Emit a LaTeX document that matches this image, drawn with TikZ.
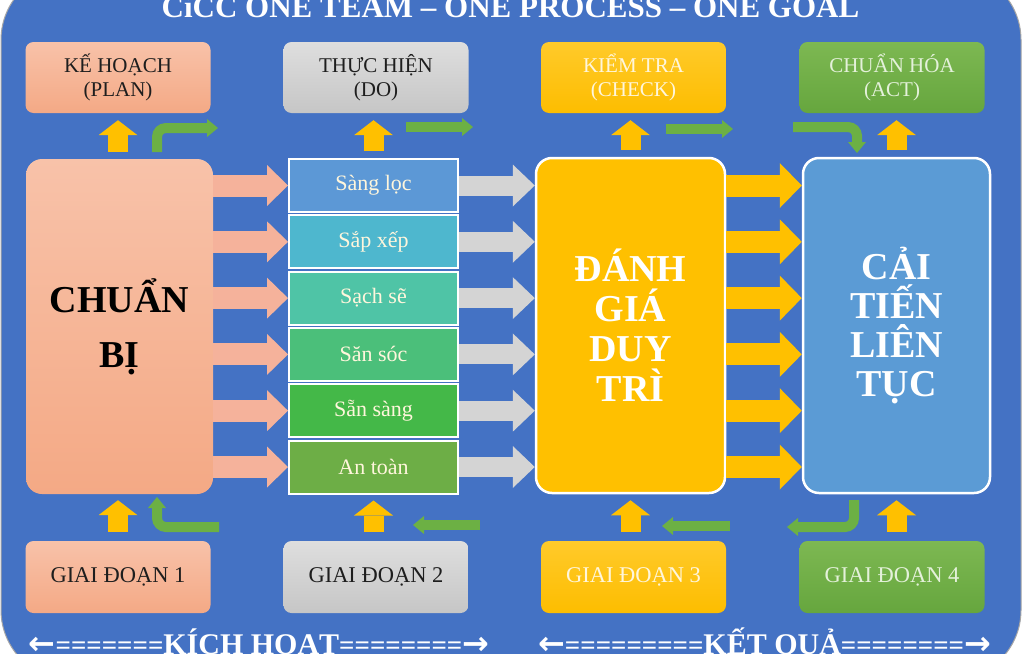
\documentclass[tikz,border=0pt]{standalone}
\usepackage{fontspec}
\setmainfont{Liberation Serif}
\newfontfamily\arrowfont{DejaVu Sans}
\usetikzlibrary{arrows.meta}
\definecolor{bgblue}{HTML}{4472C4}
\definecolor{salmontop}{HTML}{F8C2A9}
\definecolor{salmonbot}{HTML}{F4A985}
\definecolor{greytop}{HTML}{DEDEDE}
\definecolor{greybot}{HTML}{C6C6C6}
\definecolor{goldtop}{HTML}{FFCA2A}
\definecolor{goldbot}{HTML}{FDBD00}
\definecolor{leaftop}{HTML}{7DB852}
\definecolor{leafbot}{HTML}{66A63E}
\definecolor{skyblue}{HTML}{5B9BD5}
\definecolor{rowa}{HTML}{5C98D6}
\definecolor{rowb}{HTML}{4EB7CE}
\definecolor{rowc}{HTML}{4FC4A6}
\definecolor{rowd}{HTML}{4BBF7A}
\definecolor{rowe}{HTML}{44B848}
\definecolor{rowf}{HTML}{6DAE46}
\definecolor{cream}{HTML}{FFF6DC}
\definecolor{palegreen}{HTML}{E4F1DA}
\definecolor{darktext}{HTML}{1E1E1E}
\definecolor{arrpink}{HTML}{F5B29B}
\definecolor{arrgrey}{HTML}{D4D4D4}
\definecolor{arrgold}{HTML}{FFC000}
\definecolor{arrgreen}{HTML}{6CB044}
\begin{document}
\begin{tikzpicture}[x=1pt,y=-1pt,
  phase/.style={rounded corners=8pt, minimum width=185pt, minimum height=71pt,
    inner sep=0pt, align=center, font=\fontsize{21}{24}\selectfont},
  stage/.style={phase, minimum height=72pt, font=\fontsize{22.5}{26}\selectfont},
  bigbox/.style={rounded corners=16pt, minimum width=187pt, minimum height=335pt,
    inner sep=0pt, align=center},
  rowbox/.style={draw=white, line width=2pt, minimum width=169pt, minimum height=53pt,
    inner sep=0pt, text=cream, font=\fontsize{22}{24}\selectfont},
  pinkarr/.style={draw=arrpink, line width=22pt, -{Triangle[length=21pt,width=41pt,line width=0pt]}},
  greyarr/.style={draw=arrgrey, line width=20pt, -{Triangle[length=22pt,width=42pt,line width=0pt]}},
  goldarr/.style={draw=arrgold, line width=22pt, -{Triangle[length=22pt,width=45pt,line width=0pt]}},
  uparr/.style={draw=arrgold, line width=20pt, -{Triangle[length=15pt,width=39pt,line width=0pt]}},
  greenarr/.style={draw=arrgreen, line width=10pt, rounded corners=9pt,
    -{Triangle[length=11pt,width=18pt,line width=0pt]}}]
\useasboundingbox (0,0) rectangle (1024,653);
\clip (0,0) rectangle (1024,653);
\fill[white] (0,0) rectangle (1024,653);
\filldraw[fill=bgblue, draw=gray!70, line width=1pt, rounded corners=70pt] (1,-30) rectangle (1021,680);

% title and footer
\node[anchor=base, text=white, font=\bfseries\fontsize{31}{31}\selectfont] (title) at (510.5,17)
  {CiCC ONE TEAM – ONE PROCESS – ONE GOAL};
\node[anchor=base, text=white, font=\bfseries\fontsize{30}{30}\selectfont] (kichhoat) at (259,654)
  {{\arrowfont\fontsize{32}{32}\selectfont ←}{\fontsize{27}{27}\selectfont =======}KÍCH HOẠT{\fontsize{27}{27}\selectfont ========}{\arrowfont\fontsize{32}{32}\selectfont →}};
\node[anchor=base, text=white, font=\bfseries\fontsize{30}{30}\selectfont] (ketqua) at (764.5,654)
  {{\arrowfont\fontsize{32}{32}\selectfont ←}{\fontsize{27}{27}\selectfont =========}KẾT QUẢ{\fontsize{27}{27}\selectfont ========}{\arrowfont\fontsize{32}{32}\selectfont →}};

% PDCA row
\node[phase, top color=salmontop, bottom color=salmonbot, text=darktext] (plan) at (118,77.5) {KẾ HOẠCH\\(PLAN)};
\node[phase, top color=greytop, bottom color=greybot, text=darktext] (do) at (376,77.5) {THỰC HIỆN\\(DO)};
\node[phase, top color=goldtop, bottom color=goldbot, text=cream] (check) at (633.5,77.5) {KIỂM TRA\\(CHECK)};
\node[phase, top color=leaftop, bottom color=leafbot, text=palegreen] (act) at (892,77.5) {CHUẨN HÓA\\(ACT)};

% stage row
\node[stage, top color=salmontop, bottom color=salmonbot, text=darktext] (gd1) at (118,577) {GIAI ĐOẠN 1};
\node[stage, top color=greytop, bottom color=greybot, text=darktext] (gd2) at (376,577) {GIAI ĐOẠN 2};
\node[stage, top color=goldtop, bottom color=goldbot, text=cream] (gd3) at (633.5,577) {GIAI ĐOẠN 3};
\node[stage, top color=leaftop, bottom color=leafbot, text=palegreen] (gd4) at (892,577) {GIAI ĐOẠN 4};

% main blocks
\node[bigbox, top color=salmontop, bottom color=salmonbot, text=black,
  font=\bfseries\fontsize{38}{55}\selectfont] (chuanbi) at (119.5,326.5) {CHUẨN\\BỊ};
\node[bigbox, fill=arrgold, draw=white, line width=2.5pt, minimum width=189pt, text=white,
  font=\bfseries\fontsize{38}{40}\selectfont] (danhgia) at (630.5,325.5) {ĐÁNH\\GIÁ\\DUY\\TRÌ};
\node[bigbox, fill=skyblue, draw=white, line width=2.5pt, text=white,
  font=\bfseries\fontsize{38}{39}\selectfont] (caitien) at (896.5,325.5) {CẢI\\TIẾN\\LIÊN\\TỤC};

\node[rowbox, fill=rowa] (r1) at (373.5,185.5) {Sàng lọc};
\node[rowbox, fill=rowb] (r2) at (373.5,241.8) {Sắp xếp};
\node[rowbox, fill=rowc] (r3) at (373.5,298.1) {Sạch sẽ};
\node[rowbox, fill=rowd] (r4) at (373.5,354.4) {Săn sóc};
\node[rowbox, fill=rowe] (r5) at (373.5,410.7) {Sẵn sàng};
\node[rowbox, fill=rowf] (r6) at (373.5,467) {An toàn};

% block arrows
\draw[pinkarr] (chuanbi.east |- r1) -- (r1.west);
\draw[pinkarr] (chuanbi.east |- r2) -- (r2.west);
\draw[pinkarr] (chuanbi.east |- r3) -- (r3.west);
\draw[pinkarr] (chuanbi.east |- r4) -- (r4.west);
\draw[pinkarr] (chuanbi.east |- r5) -- (r5.west);
\draw[pinkarr] (chuanbi.east |- r6) -- (r6.west);

\draw[greyarr] (r1.east) -- (danhgia.west |- r1);
\draw[greyarr] (r2.east) -- (danhgia.west |- r2);
\draw[greyarr] (r3.east) -- (danhgia.west |- r3);
\draw[greyarr] (r4.east) -- (danhgia.west |- r4);
\draw[greyarr] (r5.east) -- (danhgia.west |- r5);
\draw[greyarr] (r6.east) -- (danhgia.west |- r6);

\draw[goldarr] (danhgia.east |- r1) -- (caitien.west |- r1);
\draw[goldarr] (danhgia.east |- r2) -- (caitien.west |- r2);
\draw[goldarr] (danhgia.east |- r3) -- (caitien.west |- r3);
\draw[goldarr] (danhgia.east |- r4) -- (caitien.west |- r4);
\draw[goldarr] (danhgia.east |- r5) -- (caitien.west |- r5);
\draw[goldarr] (danhgia.east |- r6) -- (caitien.west |- r6);

% up arrows
\draw[uparr, shorten <=7pt, shorten >=7pt] (chuanbi.north -| plan.south) -- (plan.south);
\draw[uparr, shorten <=7pt, shorten >=7pt] (r1.north) -- (do.south -| r1.north);
\draw[uparr, shorten <=7pt, shorten >=7pt] (danhgia.north) -- (check.south -| danhgia.north);
\draw[uparr, shorten <=7pt, shorten >=7pt] (caitien.north) -- (act.south -| caitien.north);
\draw[uparr, shorten <=9pt, shorten >=6pt] (gd1.north) -- (chuanbi.south -| gd1.north);
\draw[uparr, shorten <=9pt, shorten >=6pt] (gd2.north -| r6.south) -- (r6.south);
\draw[uparr, shorten <=9pt, shorten >=6pt] (gd3.north -| danhgia.south) -- (danhgia.south);
\draw[uparr, shorten <=9pt, shorten >=6pt] (gd4.north -| caitien.south) -- (caitien.south);

% green flow arrows
\coordinate (g1s) at (157,152);
\coordinate (g1e) at (218,128);
\coordinate (g2s) at (406,127);
\coordinate (g2e) at (473,127);
\coordinate (g3s) at (666,129);
\coordinate (g3e) at (733,129);
\coordinate (g4s) at (793,127);
\coordinate (g4e) at (857,153);
\coordinate (b1s) at (219,527);
\coordinate (b1e) at (157,497);
\coordinate (b2s) at (480,525);
\coordinate (b2e) at (413,525);
\coordinate (b3s) at (730,526);
\coordinate (b3e) at (662,526);
\coordinate (b4s) at (854,500);
\coordinate (b4e) at (787,527);
\draw[greenarr] (g1s) |- (g1e);
\draw[greenarr] (g2s) -- (g2e);
\draw[greenarr] (g3s) -- (g3e);
\draw[greenarr] (g4s) -| (g4e);
\draw[greenarr] (b1s) -| (b1e);
\draw[greenarr] (b2s) -- (b2e);
\draw[greenarr] (b3s) -- (b3e);
\draw[greenarr] (b4s) |- (b4e);
\end{tikzpicture}
\end{document}
